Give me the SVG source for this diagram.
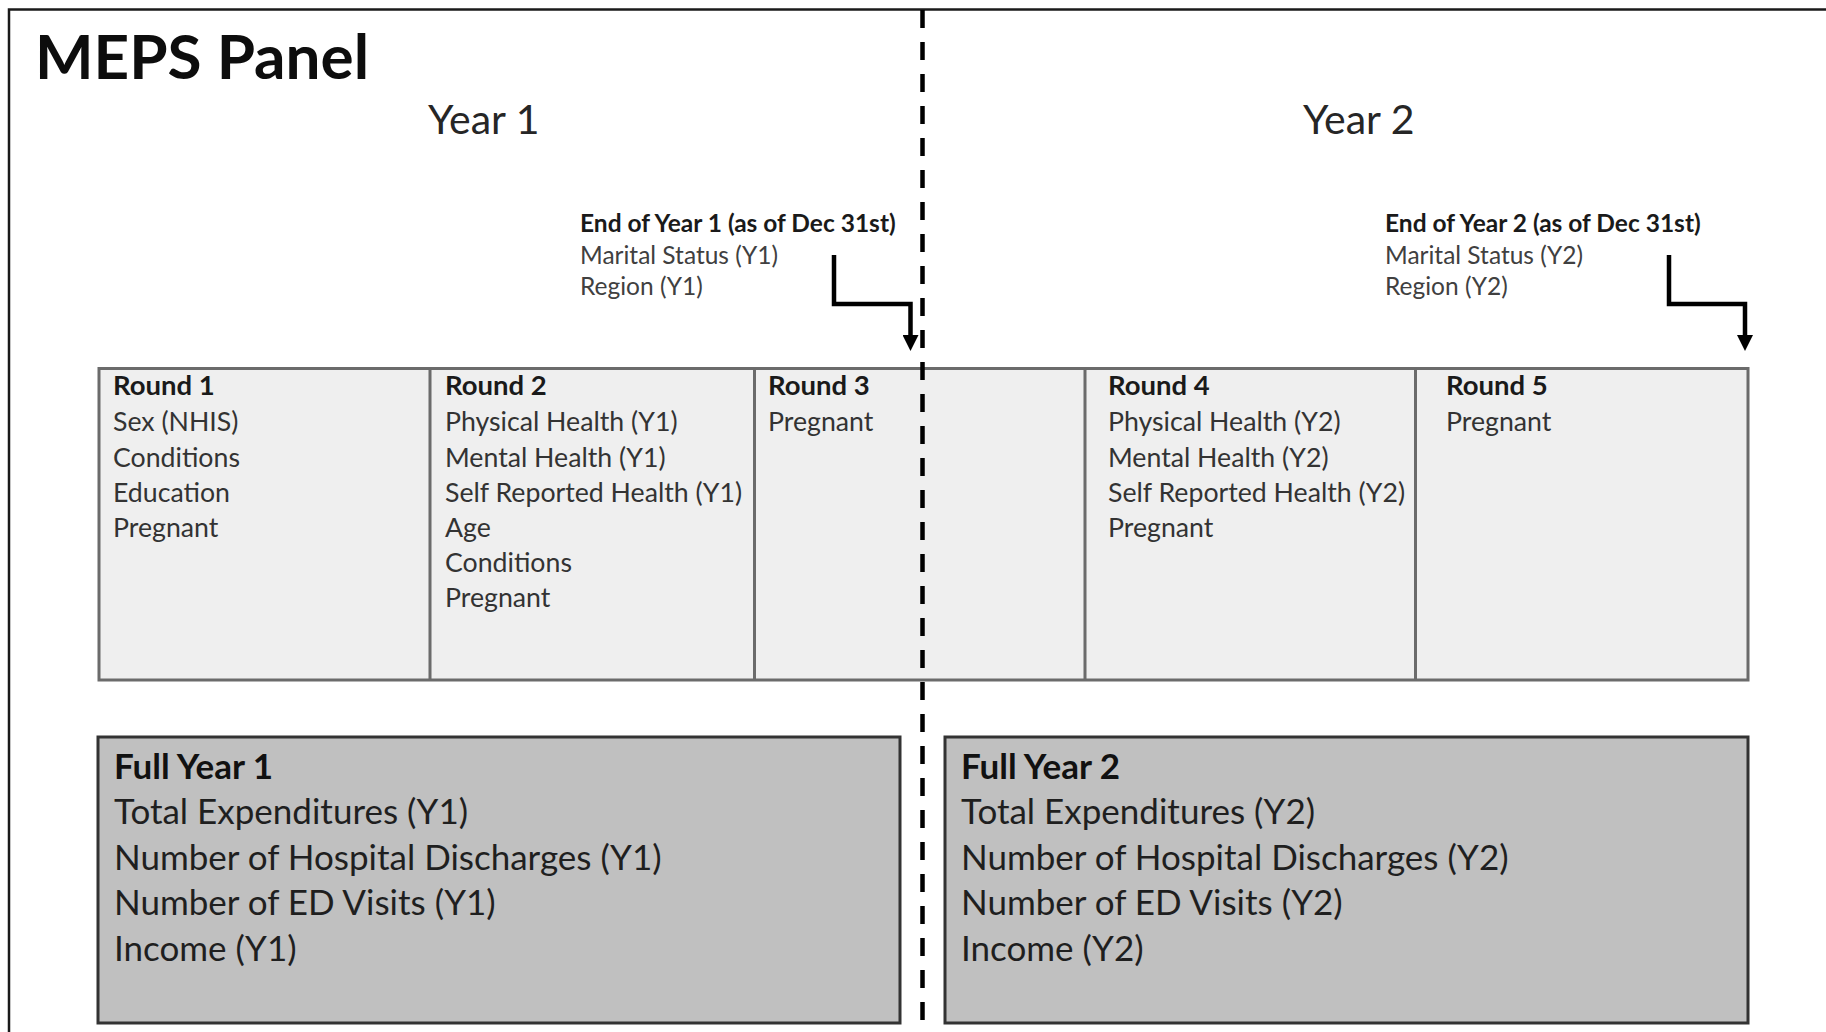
<svg xmlns="http://www.w3.org/2000/svg" width="1826" height="1032" viewBox="0 0 1826 1032">
<defs>
<style>
text{font-family:Lato,"Open Sans","Liberation Sans",sans-serif}
.title{font-size:62px;font-weight:bold;fill:#0d0d0d}
.year{font-size:41px;fill:#262626}
.eh{font-size:24.5px;font-weight:bold;fill:#1a1a1a}
.ei{font-size:24.5px;fill:#404040}
.rh{font-size:27.5px;font-weight:bold;fill:#1a1a1a}
.ri{font-size:26.7px;fill:#333333}
.fh{font-size:35px;font-weight:bold;fill:#111111}
.fi{font-size:35px;fill:#1f1f1f}
.rounds{fill:#efefef;stroke:#6b6b6b;stroke-width:3}
.div{stroke:#6b6b6b;stroke-width:3}
.full{fill:#c0c0c0;stroke:#333333;stroke-width:3}
.conn{fill:none;stroke:#000;stroke-width:4.5}
</style>
<marker id="ah" markerWidth="16" markerHeight="16" refX="5" refY="8" orient="auto" markerUnits="userSpaceOnUse" viewBox="0 0 16 16">
<path d="M0,0 L16,8 L0,16 Z" fill="#000"/>
</marker>
</defs>
<rect x="0" y="0" width="1826" height="1032" fill="#ffffff"/>
<path d="M9,1032 V9.5 H1826" fill="none" stroke="#1a1a1a" stroke-width="2.5"/>
<g id="title">
<text class="title" x="35" y="79">MEPS Panel</text>
<text class="year" x="428" y="134">Year 1</text>
<text class="year" x="1303" y="134">Year 2</text>
</g>
<g id="end-year-1">
<text class="eh" x="580" y="232">End of Year 1 (as of Dec 31st)</text>
<text class="ei" x="580" y="263.5">Marital Status (Y1)</text>
<text class="ei" x="580" y="295">Region (Y1)</text>
</g>
<g id="end-year-2">
<text class="eh" x="1385" y="232">End of Year 2 (as of Dec 31st)</text>
<text class="ei" x="1385" y="263.5">Marital Status (Y2)</text>
<text class="ei" x="1385" y="295">Region (Y2)</text>
</g>
<g id="rounds">
<rect class="rounds" x="99" y="368.5" width="1649" height="311.5"/>
<line class="div" x1="430" y1="368.5" x2="430" y2="680"/>
<line class="div" x1="754.5" y1="368.5" x2="754.5" y2="680"/>
<line class="div" x1="1085" y1="368.5" x2="1085" y2="680"/>
<line class="div" x1="1415.5" y1="368.5" x2="1415.5" y2="680"/>
</g>
<g id="round-1">
<text class="rh" x="113" y="395">Round 1</text>
<text class="ri" x="113" y="431">Sex (NHIS)</text>
<text class="ri" x="113" y="466.5">Conditions</text>
<text class="ri" x="113" y="502">Education</text>
<text class="ri" x="113" y="537">Pregnant</text>
</g>
<g id="round-2">
<text class="rh" x="445" y="395">Round 2</text>
<text class="ri" x="445" y="431">Physical Health (Y1)</text>
<text class="ri" x="445" y="466.5">Mental Health (Y1)</text>
<text class="ri" x="445" y="502">Self Reported Health (Y1)</text>
<text class="ri" x="445" y="537">Age</text>
<text class="ri" x="445" y="572">Conditions</text>
<text class="ri" x="445" y="607">Pregnant</text>
</g>
<g id="round-3">
<text class="rh" x="768" y="395">Round 3</text>
<text class="ri" x="768" y="431">Pregnant</text>
</g>
<g id="round-4">
<text class="rh" x="1108" y="395">Round 4</text>
<text class="ri" x="1108" y="431">Physical Health (Y2)</text>
<text class="ri" x="1108" y="466.5">Mental Health (Y2)</text>
<text class="ri" x="1108" y="502">Self Reported Health (Y2)</text>
<text class="ri" x="1108" y="537">Pregnant</text>
</g>
<g id="round-5">
<text class="rh" x="1446" y="395">Round 5</text>
<text class="ri" x="1446" y="431">Pregnant</text>
</g>
<g id="full-year-1">
<rect class="full" x="98" y="737" width="802" height="286"/>
<text class="fh" x="114" y="779">Full Year 1</text>
<text class="fi" x="114" y="824">Total Expenditures (Y1)</text>
<text class="fi" x="114" y="870">Number of Hospital Discharges (Y1)</text>
<text class="fi" x="114" y="915">Number of ED Visits (Y1)</text>
<text class="fi" x="114" y="961">Income (Y1)</text>
</g>
<g id="full-year-2">
<rect class="full" x="945" y="737" width="803" height="286"/>
<text class="fh" x="961" y="779">Full Year 2</text>
<text class="fi" x="961" y="824">Total Expenditures (Y2)</text>
<text class="fi" x="961" y="870">Number of Hospital Discharges (Y2)</text>
<text class="fi" x="961" y="915">Number of ED Visits (Y2)</text>
<text class="fi" x="961" y="961">Income (Y2)</text>
</g>
<g id="connectors">
<line x1="922.5" y1="10" x2="922.5" y2="1032" stroke="#000" stroke-width="4.5" stroke-dasharray="18 14"/>
<path class="conn" d="M834,255 V304 H910.5 V340" marker-end="url(#ah)"/>
<path class="conn" d="M1669,255 V304 H1745 V340" marker-end="url(#ah)"/>
</g>
</svg>
